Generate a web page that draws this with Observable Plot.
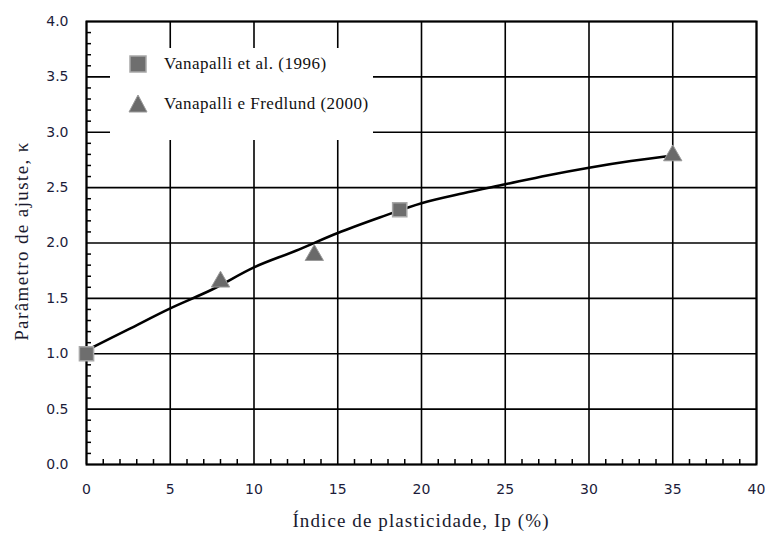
<!DOCTYPE html>
<html>
<head>
<meta charset="utf-8">
<script src="https://cdn.jsdelivr.net/npm/d3@7"></script>
<script src="https://cdn.jsdelivr.net/npm/@observablehq/plot@0.6"></script>
<style>
  html, body { margin: 0; padding: 0; background: #fff; }
  #wrap { position: relative; width: 765px; height: 533px; }
  #legend { position: absolute; left: 110px; top: 48px; width: 263px; height: 92px; background: #fff;
            font-family: "Liberation Serif", "DejaVu Serif", serif; font-size: 17px; letter-spacing: 0.5px; color: #111; }
  #legend .row { position: absolute; left: 18px; display: flex; align-items: center; }
  #legend .row span { margin-left: 16px; }
</style>
</head>
<body>
<div id="wrap"></div>
<script>
// Data
const curveX = [0, 2.5, 5, 7.5, 10, 12.5, 15, 17.5, 20, 22.5, 25, 27.5, 30, 32.5, 35];
const curveY = [1.03, 1.22, 1.41, 1.58, 1.78, 1.93, 2.09, 2.23, 2.36, 2.45, 2.53, 2.61, 2.68, 2.74, 2.79];
const squareX = [0, 18.7];
const squareY = [1.0, 2.30];
const triangleX = [8, 13.6, 35];
const triangleY = [1.65, 1.89, 2.79];
const seriesNames = ["Vanapalli et al. (1996)", "Vanapalli e Fredlund (2000)"];
const xTicks = [0, 5, 10, 15, 20, 25, 30, 35, 40];
const yTicks = [0, 0.5, 1.0, 1.5, 2.0, 2.5, 3.0, 3.5, 4.0];
const xMinor = d3.range(0, 41).filter(v => v % 5 !== 0);
const yMinor = d3.range(0, 41).filter(v => v % 5 !== 0).map(v => v / 10);
const xLabel = "Índice de plasticidade, Ip (%)";
const yLabel = "Parâmetro de ajuste, κ";

const curve = curveX.map((x, i) => ({x, y: curveY[i]}));
const squares = squareX.map((x, i) => ({x, y: squareY[i]}));
const triangles = triangleX.map((x, i) => ({x, y: triangleY[i]}));

const tickFont = {fontSize: 14, fill: "#1c1c3a", fontFamily: "DejaVu Sans, sans-serif"};

const chart = Plot.plot({
  width: 765, height: 533,
  marginLeft: 86, marginRight: 9, marginTop: 21, marginBottom: 69,
  style: {fontFamily: "DejaVu Sans, sans-serif", background: "white"},
  x: {domain: [0, 40]},
  y: {domain: [0, 4]},
  marks: [
    Plot.gridX(xTicks, {stroke: "black", strokeOpacity: 1, strokeWidth: 1.6}),
    Plot.gridY(yTicks, {stroke: "black", strokeOpacity: 1, strokeWidth: 1.6}),
    Plot.axisX(xMinor, {tickSize: -5, text: null, label: null, stroke: "black", strokeWidth: 1.5}),
    Plot.axisY(yMinor, {tickSize: -5, text: null, label: null, stroke: "black", strokeWidth: 1.5}),
    Plot.axisX(xTicks, {tickSize: 0, tickPadding: 20, label: null, ...tickFont}),
    Plot.axisY(yTicks, {tickSize: 0, tickPadding: 18, label: null, tickFormat: d3.format(".1f"), ...tickFont}),
    Plot.frame({stroke: "black", strokeWidth: 2}),
    Plot.line(curve, {x: "x", y: "y", curve: "catmull-rom", stroke: "black", strokeWidth: 2.6}),
    Plot.dot(squares, {x: "x", y: "y", symbol: "square", r: 8, fill: "#6e6e6e", stroke: "#a8a8a8", strokeWidth: 1.5}),
    Plot.dot(triangles, {x: "x", y: "y", symbol: "triangle", r: 6.8, fill: "#6a6a6a", stroke: "#9a9a9a", strokeWidth: 1})
  ]
});

const wrap = document.getElementById("wrap");
wrap.appendChild(chart);

// Axis titles
const svg = d3.select(chart);
svg.append("text")
  .attr("x", (86 + 756) / 2).attr("y", 527)
  .attr("text-anchor", "middle")
  .attr("font-family", "Liberation Serif, serif").attr("font-size", 19).attr("letter-spacing", 1.1).attr("fill", "#1a1a2e")
  .text(xLabel);
svg.append("text")
  .attr("transform", "translate(28,241) rotate(-90)")
  .attr("text-anchor", "middle")
  .attr("font-family", "Liberation Serif, serif").attr("font-size", 19).attr("letter-spacing", 1.4).attr("fill", "#1a1a2e")
  .text(yLabel);

// Legend
const legend = document.createElement("div");
legend.id = "legend";
legend.innerHTML = `
  <div class="row" style="top:6px"><svg width="20" height="20"><rect x="2" y="2" width="16" height="16" fill="#6e6e6e" stroke="#a8a8a8" stroke-width="1.5"/></svg><span>${seriesNames[0]}</span></div>
  <div class="row" style="top:46px"><svg width="20" height="20"><path d="M10,1 L19,18 L1,18 Z" fill="#6a6a6a" stroke="#9a9a9a" stroke-width="1"/></svg><span>${seriesNames[1]}</span></div>`;
wrap.appendChild(legend);
</script>
</body>
</html>
